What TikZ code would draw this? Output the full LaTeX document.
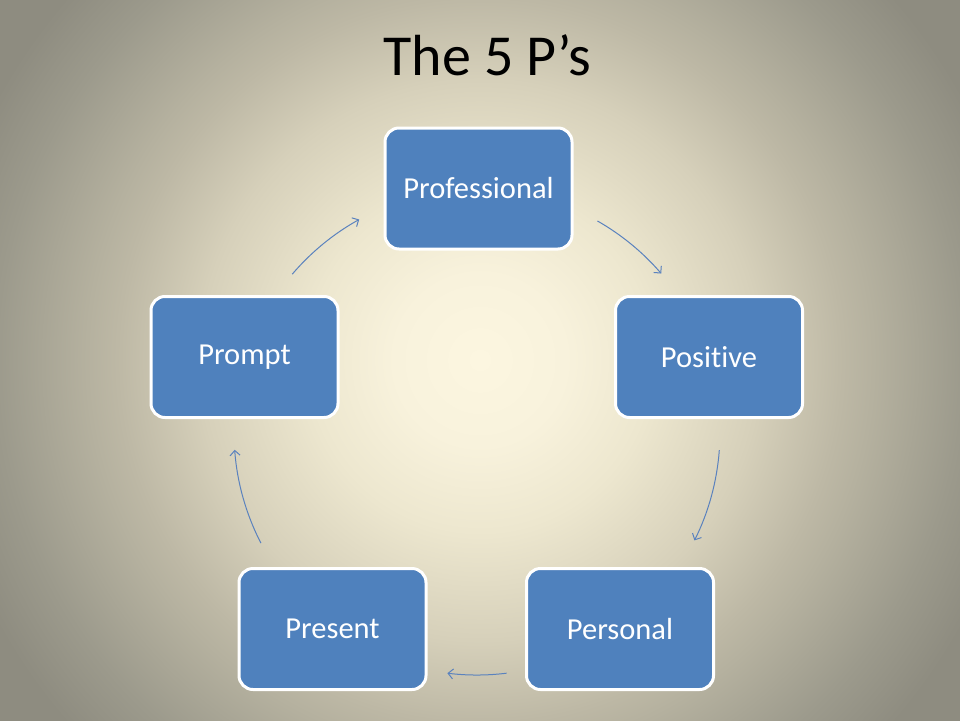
\documentclass[tikz,border=0pt]{standalone}
\usepackage{fontspec}
\setmainfont{Carlito}[Ligatures={NoCommon}]
\usetikzlibrary{arrows.meta,calc}
\definecolor{boxblue}{HTML}{4F81BD}
\definecolor{arrblue}{HTML}{5A82BE}
\definecolor{bga}{HTML}{FCF6E0}
\definecolor{bgb}{HTML}{F8F2DC}
\definecolor{bgc}{HTML}{EDE7CF}
\definecolor{bgd}{HTML}{D6D0BA}
\definecolor{bge}{HTML}{BDB8A5}
\definecolor{bgf}{HTML}{B5B19F}
\definecolor{bgg}{HTML}{9C9A8C}
\definecolor{bgh}{HTML}{8E8C80}
\pgfdeclareradialshading{slidebg}{\pgfpoint{0bp}{0bp}}{color(0bp)=(bga); color(3.57bp)=(bgb); color(7.14bp)=(bgc); color(11.68bp)=(bgd); color(15.12bp)=(bge); color(16.38bp)=(bgf); color(20.16bp)=(bgg); color(22.93bp)=(bgh); color(50bp)=(bgh)}
\tikzset{
  pbox/.style={rectangle, rounded corners=14pt, fill=boxblue, draw=white, line width=3pt,
    minimum width=187pt, minimum height=121pt, inner sep=0pt, text=white,
    font=\fontsize{30.5}{33}\selectfont},
  cyc/.style={draw=arrblue, line width=1pt, -{Straight Barb[length=5pt,width=10pt]}}
}
\begin{document}
\begin{tikzpicture}[x=1pt,y=-1pt]
\useasboundingbox (0,0) rectangle (960,720);
\begin{scope}
\clip (0,0) rectangle (960,720);
\shade[shading=slidebg] (-120,-240) rectangle (1080,960);
\end{scope}
\node[anchor=base, font=\fontsize{58}{62}\selectfont] (title) at (487.5,75) {The 5 P’s};
\node[pbox] (prof) at (478.5,188.5) {Professional};
\node[pbox] (pos) at (709,357) {Positive};
\node[pbox] (pers) at (620,629) {Personal};
\node[pbox] (pres) at (332.5,629) {Present};
\node[pbox] (prom) at (244.5,357) {Prompt};
\coordinate (c) at (477,432);
\path (c) ++(-60.3:243) coordinate (s1);
\path (c) ++(4.3:243) coordinate (s2);
\path (c) ++(83:243) coordinate (s3);
\path (c) ++(152.8:243) coordinate (s4);
\path (c) ++(220.5:243) coordinate (s5);
\draw[cyc] (s1) arc[start angle=-60.3, end angle=-40.7, radius=243];
\draw[cyc] (s2) arc[start angle=4.3, end angle=26.5, radius=243];
\draw[cyc] (s3) arc[start angle=83, end angle=97, radius=243];
\draw[cyc] (s4) arc[start angle=152.8, end angle=175.8, radius=243];
\draw[cyc] (s5) arc[start angle=220.5, end angle=241, radius=243];
\end{tikzpicture}
\end{document}
